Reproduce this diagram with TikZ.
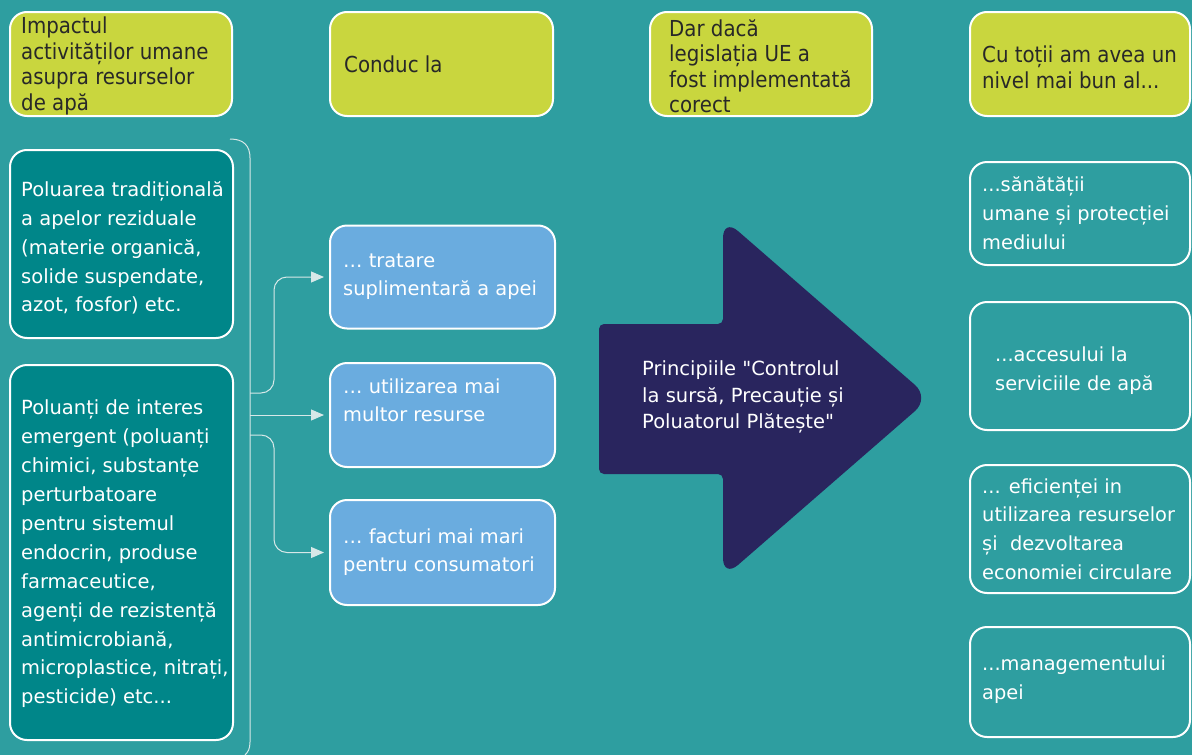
\documentclass[tikz,border=0pt]{standalone}
\usepackage{fontspec}
\setmainfont{DejaVu Sans}
\newfontfamily\hdrfont{DejaVu Sans Condensed}
\newfontfamily\plainsans{DejaVu Sans}
\usetikzlibrary{arrows.meta}
\definecolor{bgteal}{RGB}{46,158,160}
\definecolor{hdryellow}{RGB}{201,214,62}
\definecolor{darkteal}{RGB}{0,134,137}
\definecolor{boxblue}{RGB}{106,172,223}
\definecolor{navy}{RGB}{41,37,94}
\definecolor{hdrtext}{RGB}{40,40,40}
\definecolor{linegray}{RGB}{215,232,232}
\tikzset{
  basebox/.style={draw=white, line width=2pt, rounded corners=17pt, inner sep=0pt},
  hdrbox/.style={basebox, fill=hdryellow, minimum width=222pt, minimum height=104pt},
  leftbox/.style={basebox, fill=darkteal, minimum width=223pt},
  bluebox/.style={basebox, fill=boxblue, minimum width=225pt},
  rightbox/.style={basebox, fill=bgteal, minimum width=220pt},
  txt/.style={anchor=west, align=left, inner sep=0pt, text=white},
  hdrtxt/.style={txt, text=hdrtext, font=\hdrfont\fontsize{22}{25.5}\selectfont},
  lefttxt/.style={txt, font=\fontsize{19.5}{28.9}\selectfont},
  bluetxt/.style={txt, font=\fontsize{19.4}{28}\selectfont},
  righttxt/.style={txt, font=\fontsize{19.4}{28.8}\selectfont},
  arrowtxt/.style={txt, font=\plainsans\fontsize{19.5}{26.5}\selectfont},
  conn/.style={draw=linegray, line width=1pt, rounded corners=13pt,
     -{Triangle[length=13pt,width=11pt]}, shorten >=5pt},
  bracket/.style={draw=linegray, line width=1pt}
}
\begin{document}
\begin{tikzpicture}[x=1pt,y=-1pt]
\fill[bgteal] (0,0) rectangle (1192,755);
\useasboundingbox (0,0) rectangle (1192,755);

% header boxes
\node[hdrbox] (h1) at (121,64) {};
\node[hdrtxt] (h1t) at ([xshift=12pt,yshift=-2pt]h1.west) {Impactul\\activităților umane\\asupra resurselor\\de apă};
\node[hdrbox, minimum width=223pt] (h2) at (441.5,64) {};
\node[hdrtxt] (h2t) at ([xshift=15pt]h2.west) {Conduc la};
\node[hdrbox] (h3) at (761,64) {};
\node[hdrtxt] (h3t) at ([xshift=20pt,yshift=-2pt]h3.west) {Dar dacă\\legislația UE a\\fost implementată\\corect};
\node[hdrbox, minimum width=220pt] (h4) at (1080,64) {};
\node[hdrtxt] (h4t) at ([xshift=13pt,yshift=-3.5pt]h4.west) {Cu toții am avea un\\nivel mai bun al...};

% left boxes
\node[leftbox, minimum height=188pt] (la) at (121.5,244) {};
\node[lefttxt] (lat) at ([xshift=12pt,yshift=-4pt]la.west)
  {Poluarea tradițională\\a apelor reziduale\\(materie organică,\\solide suspendate,\\azot, fosfor) etc.};
\node[leftbox, minimum height=375pt] (lb) at (121.5,552.5) {};
\node[lefttxt] (lbt) at ([xshift=12pt,yshift=-1.5pt]lb.west)
  {Poluanți de interes\\emergent (poluanți\\chimici, substanțe\\perturbatoare\\pentru sistemul\\endocrin, produse\\farmaceutice,\\agenți de rezistență\\antimicrobiană,\\microplastice, nitrați,\\pesticide) etc...};

% bracket
\draw[bracket] (230,139) .. controls (244,139) and (250,146) .. (250,158) -- (250,742) .. controls (250,749) and (248,752) .. (245,755);
\coordinate (br1) at (250,393);
\coordinate (br2) at (250,415);
\coordinate (br3) at (250,435);

% blue boxes
\node[bluebox, minimum height=103pt] (b1) at (442.5,277) {};
\node[bluetxt] (b1t) at ([xshift=14pt]b1.west) {… tratare\\suplimentară a apei};
\node[bluebox, minimum height=104pt] (b2) at (442.5,415) {};
\node[bluetxt] (b2t) at ([xshift=14pt,yshift=15pt]b2.west) {… utilizarea mai\\multor resurse};
\node[bluebox, minimum height=105pt] (b3) at (442.5,552.5) {};
\node[bluetxt] (b3t) at ([xshift=14pt]b3.west) {… facturi mai mari\\pentru consumatori};

% connectors
\draw[conn] (br1) -| ([xshift=-55pt]b1.west) -- (b1.west);
\draw[conn] (br2) -- (b2.west);
\draw[conn] (br3) -| ([xshift=-55pt]b3.west) -- (b3.west);

% big arrow
\fill[navy, rounded corners=5pt] (599,324) -- (723,324) -- (723,240)
  [rounded corners=20pt] -- (723,218) -- (930,398) -- (723,578)
  [rounded corners=5pt] -- (723,474) -- (599,474) -- cycle;
\node[arrowtxt] (arr) at (642,397)
  {Principiile "Controlul\\la sursă, Precauție și\\Poluatorul Plătește"};

% right boxes
\node[rightbox, minimum height=103pt] (r1) at (1080,213.5) {};
\node[righttxt] (r1t) at ([xshift=13pt]r1.west) {...sănătății\\umane și protecției\\mediului};
\node[rightbox, minimum height=128pt] (r2) at (1080,366) {};
\node[righttxt] (r2t) at ([xshift=26pt,yshift=-5pt]r2.west) {...accesului la\\serviciile de apă};
\node[rightbox, minimum height=128pt] (r3) at (1080,529) {};
\node[righttxt] (r3t) at ([xshift=13pt]r3.west) {... eficienței in\\utilizarea resurselor\\și\ \ dezvoltarea\\economiei circulare};
\node[rightbox, minimum height=110pt] (r4) at (1080,682) {};
\node[righttxt] (r4t) at ([xshift=13pt,yshift=2pt]r4.west) {...managementului\\apei};
\end{tikzpicture}
\end{document}
